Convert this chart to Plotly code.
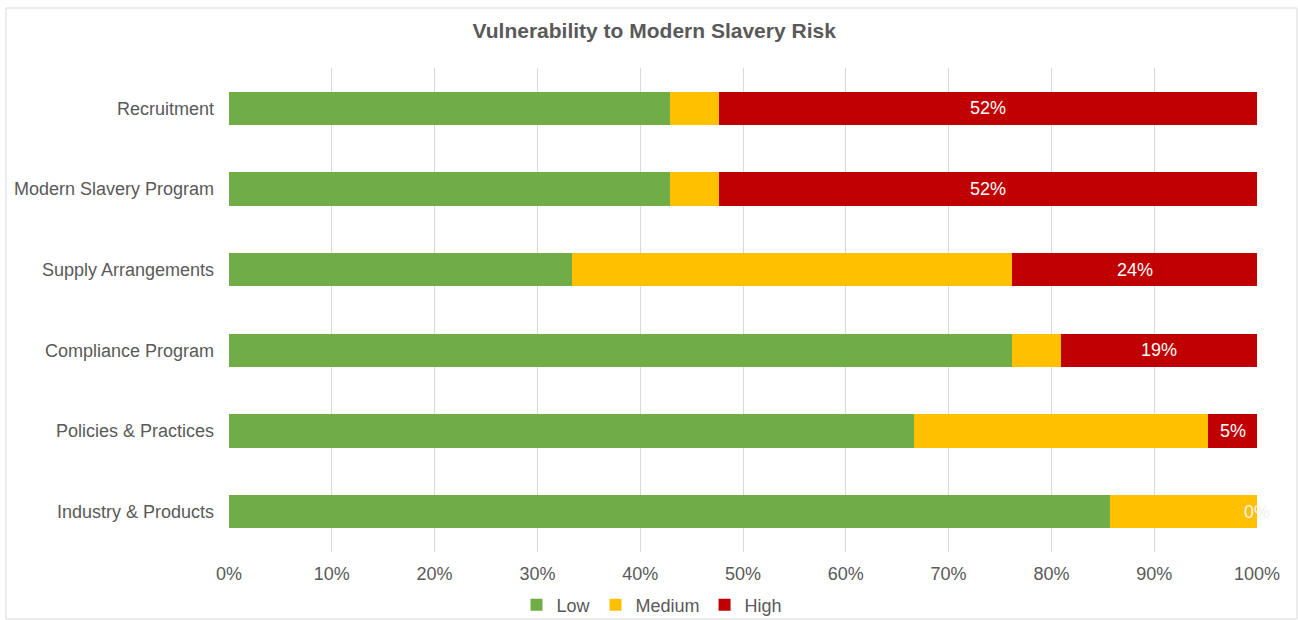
import plotly.graph_objects as go

categories = ["Recruitment", "Modern Slavery Program", "Supply Arrangements",
              "Compliance Program", "Policies & Practices", "Industry & Products"]
low = [42.86, 42.86, 33.33, 76.19, 66.67, 85.71]
medium = [4.76, 4.76, 42.86, 4.76, 28.57, 14.29]
high = [52.38, 52.38, 23.81, 19.05, 4.76, 0.0]
high_labels = ["52%", "52%", "24%", "19%", "5%", "0%"]

FONT = "Liberation Sans, Arial, sans-serif"
GREY = "#595959"

fig = go.Figure()
fig.add_trace(go.Bar(y=categories, x=low, name="Low", orientation="h",
                     marker=dict(color="#70ad47", line=dict(width=0))))
fig.add_trace(go.Bar(y=categories, x=medium, name="Medium", orientation="h",
                     marker=dict(color="#ffc000", line=dict(width=0))))
fig.add_trace(go.Bar(y=categories, x=high, name="High", orientation="h",
                     marker=dict(color="#c00000", line=dict(width=0))))

annotations = []
for c, l, m, h, t in zip(categories, low, medium, high, high_labels):
    annotations.append(dict(x=l + m + h / 2, y=c, xref="x", yref="y", text=t,
                            showarrow=False,
                            font=dict(family=FONT, size=18,
                                      color="#ffffff" if h > 0 else "#f2f2f2")))

fig.update_layout(
    barmode="stack",
    bargap=0.59,
    width=1298, height=620,
    margin=dict(l=229, r=41, t=68, b=68, autoexpand=False),
    paper_bgcolor="white", plot_bgcolor="white",
    font=dict(family=FONT, size=18, color=GREY),
    title=dict(text="<b>Vulnerability to Modern Slavery Risk</b>", x=0.504, xref="container",
               xanchor="center", y=1 - 31 / 620, yanchor="middle",
               font=dict(family=FONT, size=21, color=GREY)),
    xaxis=dict(range=[0, 100], dtick=10, tick0=0, ticksuffix="%", showgrid=True,
               gridcolor="#d9d9d9", gridwidth=1, zeroline=False, showline=False,
               tickfont=dict(size=18, color=GREY), ticklabelstandoff=9, fixedrange=True),
    yaxis=dict(categoryorder="array", categoryarray=categories[::-1], showgrid=False,
               showline=False, zeroline=False, tickfont=dict(size=18, color=GREY),
               ticklabelstandoff=14),
    legend=dict(orientation="h", xref="container", yref="container",
                x=652 / 1298, xanchor="center", y=1 - 605 / 620, yanchor="middle",
                font=dict(size=18, color=GREY), traceorder="normal",
                itemwidth=30, bgcolor="rgba(0,0,0,0)"),
    annotations=annotations,
    shapes=[dict(type="rect", xref="paper", yref="paper",
                 x0=(6 - 229) / 1028, x1=(1297 - 229) / 1028,
                 y0=(552 - 619) / 484, y1=(552 - 8) / 484,
                 line=dict(color="#d9d9d9", width=1), fillcolor="rgba(0,0,0,0)", layer="below")],
)

fig.write_html("out.html")
